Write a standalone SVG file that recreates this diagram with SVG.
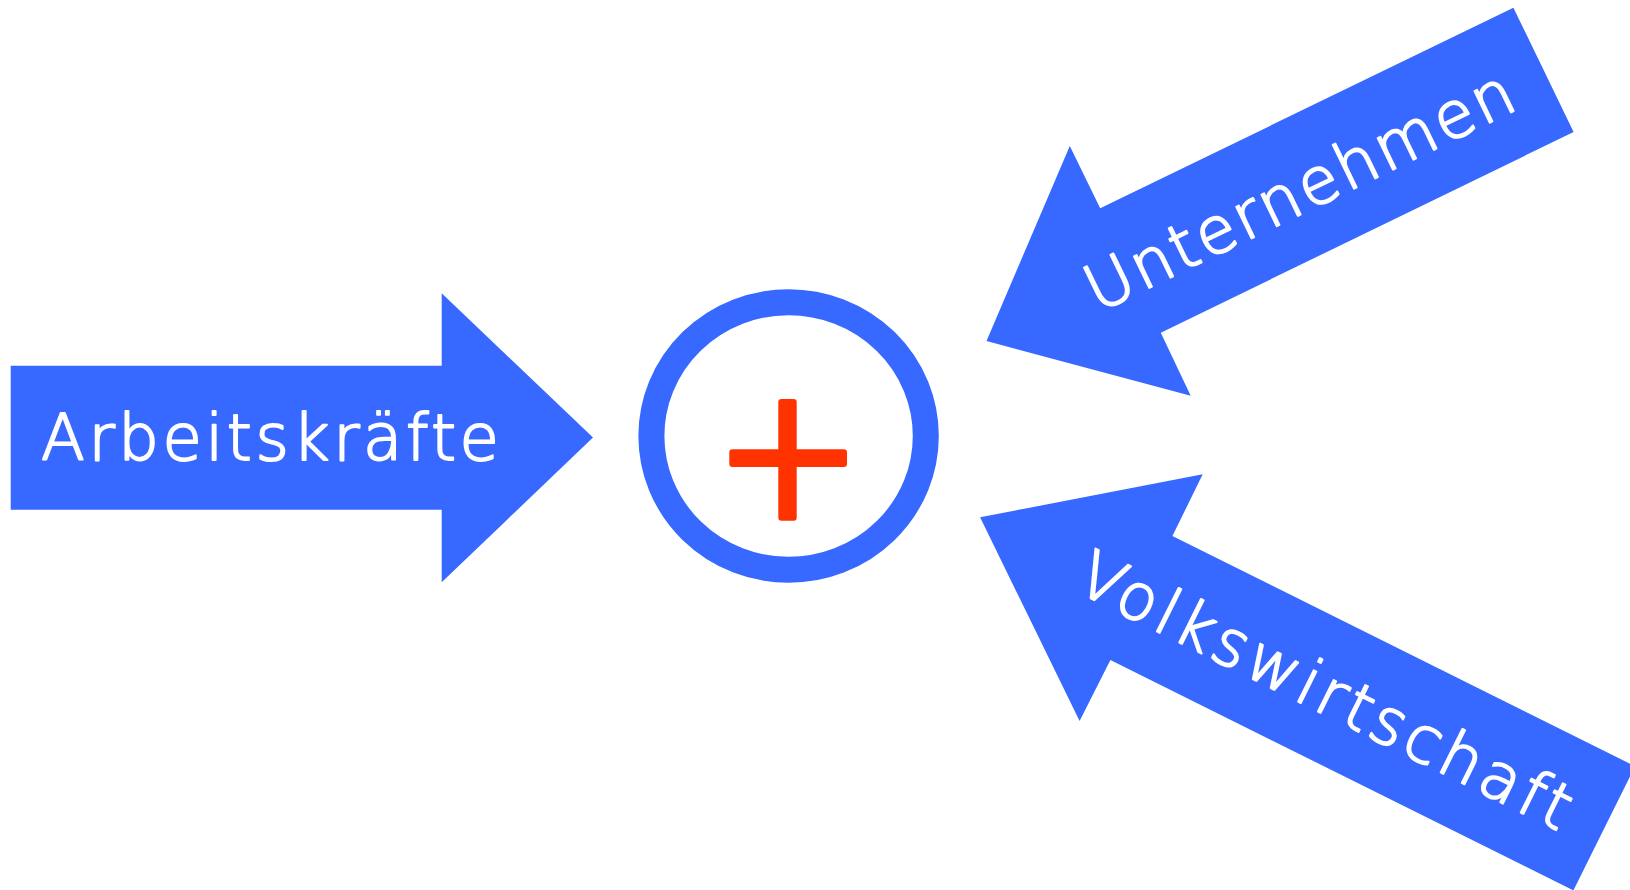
<svg xmlns="http://www.w3.org/2000/svg" width="1630" height="890" viewBox="0 0 1630 890">
<style>
.arrow{fill:#3768FF;}
.lbl{fill:#FFFFFF;stroke:#FFFFFF;stroke-width:2px;stroke-linejoin:round;font-family:"DejaVu Sans","Liberation Sans",sans-serif;font-weight:200;font-size:64px;}
.ring{fill:none;stroke:#3768FF;stroke-width:26;}
.plus{fill:#FF3300;}
</style>
<rect width="1630" height="890" fill="#FFFFFF"/>
<g id="connectors">
<g id="arrow-arbeitskraefte">
<polygon class="arrow" points="10.7,365.7 441.7,365.7 441.7,293.3 593,437.5 441.7,582.3 441.7,509.7 10.7,509.7"/>
<text class="lbl" x="41" y="460.3" letter-spacing="3.6">Arbeitskräfte</text>
</g>
<g id="arrow-unternehmen">
<polygon class="arrow" points="986.5,341 1069.8,146 1100.2,208.3 1513.4,7.7 1573.6,132 1160.8,332.7 1190.7,395.7"/>
<text class="lbl" transform="translate(1098,312.8) rotate(-25.9)" letter-spacing="2.9">Unternehmen</text>
</g>
<g id="arrow-volkswirtschaft">
<polygon class="arrow" points="980.1,517.3 1202.7,474.3 1172.4,536 1635.1,766.3 1573.4,890.4 1110.4,660 1079.6,721"/>
<text class="lbl" transform="translate(1072.9,589.6) rotate(26.45)" letter-spacing="4.3">Volkswirtschaft</text>
</g>
</g>
<g id="node-plus">
<ellipse class="ring" cx="788.6" cy="436" rx="137.2" ry="133.8"/>
<rect class="plus" x="778.3" y="399" width="18.4" height="121.7" rx="3"/>
<rect class="plus" x="729.3" y="449.3" width="117.7" height="17.7" rx="3"/>
</g>
</svg>
